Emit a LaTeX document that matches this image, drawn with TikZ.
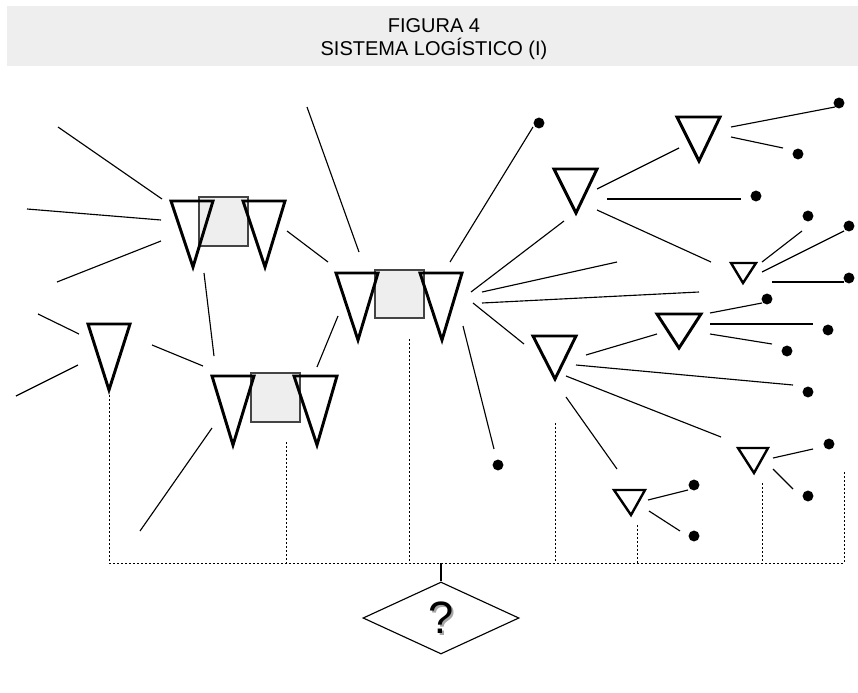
\documentclass[tikz,border=0pt]{standalone}
\usepackage{fontspec}
\setmainfont{Liberation Sans}
\usetikzlibrary{shapes.geometric}
\definecolor{bandgray}{HTML}{EEEEEE}
\definecolor{boxgray}{HTML}{EEEEEE}
\definecolor{boxline}{HTML}{444444}
\tikzset{
  tribig/.style={line width=2.2pt, line join=miter, black},
  trismall/.style={line width=1.8pt, line join=miter, black},
  conn/.style={line width=0.85pt, black},
  dotline/.style={line width=0.75pt, dash pattern=on 1.5pt off 1.5pt},
  graybox/.style={fill=boxgray, draw=boxline, line width=1.1pt},
  enddot/.style={circle, fill=black, inner sep=0pt, minimum size=8.2pt},
}
\begin{document}
\begin{tikzpicture}[x=0.75pt,y=-0.75pt]
\useasboundingbox (0,0) rectangle (858,693);
% header
\fill[bandgray] (7,6) rectangle (858,66);
\node[anchor=base, font=\fontsize{15}{17}\selectfont] (t1) at (434,32) {FIGURA 4};
\node[anchor=base, font=\fontsize{15}{17}\selectfont] (t2) at (434,55) {SISTEMA LOGÍSTICO (I)};

% grey boxes (under the triangles)
\draw[graybox] (199,197) rectangle (248,246);
\draw[graybox] (375,270) rectangle (424,318);
\draw[graybox] (251,373) rectangle (300,422);

% large triangles
\foreach \a/\b/\y/\c/\d in {171/213/201/193/267, 243/285/201/265/267,
  336/378/273/358/340, 420/462/273/442/340,
  212/254/376/233/445, 294/337/376/317/445,
  88/130/324/109/390,
  554/597/169/576/213, 677/720/117/699/161,
  657/701/314/679/348, 533/576/336/555/379}
  \draw[tribig] (\a,\y) -- (\b,\y) -- (\c,\d) -- cycle;
% small triangles
\foreach \a/\b/\y/\c/\d in {731/756/263/743/283, 738/768/448/754/473, 614/645/490/631/515}
  \draw[trismall] (\a,\y) -- (\b,\y) -- (\c,\d) -- cycle;

% solid connectors
\foreach \p/\q in {{58,127}/{162,199}, {27,209}/{161,220}, {57,282}/{161,241},
  {307,107}/{359,252}, {287,231}/{328,262}, {204,273}/{214,356},
  {338,316}/{317,367}, {38,314}/{79,334}, {78,365}/{16,396},
  {152,345}/{203,366}, {450,262}/{533,127}, {463,326}/{494,449},
  {471,292}/{564,221}, {482,292}/{617,262}, {482,303}/{699,292},
  {473,303}/{524,344}, {597,189}/{679,148}, {607,199}/{741,199},
  {597,210}/{711,262}, {731,127}/{835,107}, {731,137}/{783,148},
  {762,262}/{802,231}, {762,272}/{844,231}, {772,282}/{844,282},
  {710,313}/{762,303}, {710,324}/{813,324}, {710,334}/{772,344},
  {586,355}/{657,334}, {576,365}/{793,385}, {566,376}/{721,437},
  {566,397}/{617,469}, {773,458}/{813,449}, {773,469}/{793,489},
  {648,500}/{688,490}, {649,511}/{680,531}, {212,428}/{140,531}}
  \draw[conn] (\p) -- (\q);

% end dots
\foreach \pt [count=\i] in {{539,123},{839,103},{798,154},{756,196},{808,216},
  {849,226},{849,278},{767,299},{828,330},{787,351},{808,392},{829,444},
  {808,496},{694,485},{694,536},{498,465}}
  \node[enddot] (d\i) at (\pt) {};

% dotted collectors
\foreach \x/\y in {109/395, 286/442, 409/339, 555/423, 637/525, 762/483, 844/472}
  \draw[dotline] (\x,\y) -- (\x,563);
\coordinate (bl) at (109,563);
\coordinate (br) at (844,563);
\coordinate (bm) at (441,563);
\draw[dotline] (bl) -- (br);

% decision diamond
\node[diamond, draw, line width=0.85pt, minimum width=117pt, minimum height=54pt, inner sep=0pt] (q) at (441,618) {};
\draw[conn] (bm) -- (q.north);
\node[font=\fontsize{34}{36}\selectfont, text=black!35] (qs) at (443,620) {?};
\node[font=\fontsize{34}{36}\selectfont] (qt) at (441,618) {?};
\end{tikzpicture}
\end{document}
